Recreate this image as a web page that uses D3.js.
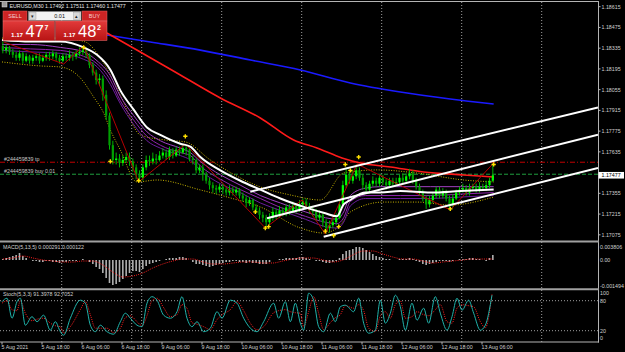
<!DOCTYPE html>
<html>
<head>
<meta charset="utf-8">
<script src="https://cdnjs.cloudflare.com/ajax/libs/d3/7.8.5/d3.min.js"></script>
<style>
  body { margin: 0; background: #000; overflow: hidden; }
  svg { display: block; font-family: "Liberation Sans", Arial, sans-serif; }
</style>
</head>
<body>
<script>
// ---- data (EURUSD M30, hourly candles) ----
const firstOpen = 1.1835;
const closes = [
  1.1832,1.1834,1.1831,1.1829,1.1827,1.1830,1.1825,1.1828,1.1825,1.1827,
  1.1828,1.1825,1.1827,1.1829,1.1828,1.1830,1.1827,1.1825,1.1828,1.1827,
  1.1829,1.1828,1.1830,1.1831,1.1832,1.1829,1.1822,1.1817,1.1812,1.1813,
  1.1802,1.1788,1.1768,1.1758,1.1759,1.1756,1.1758,1.1760,1.1757,1.1753,
  1.1748,1.1746,1.1753,1.1758,1.1757,1.1759,1.1758,1.1761,1.1763,1.1760,
  1.1765,1.1761,1.1765,1.1763,1.1766,1.1765,1.1759,1.1758,1.1751,1.1753,
  1.1748,1.1744,1.1741,1.1739,1.1738,1.1740,1.1738,1.1736,1.1738,1.1736,
  1.1738,1.1734,1.1732,1.1729,1.1731,1.1726,1.1724,1.1721,1.1719,1.1716,
  1.1719,1.1723,1.1721,1.1724,1.1722,1.1726,1.1723,1.1727,1.1724,1.1728,
  1.1730,1.1727,1.1724,1.1723,1.1719,1.1721,1.1716,1.1712,1.1714,1.1716,
  1.1719,1.1728,1.1741,1.1748,1.1744,1.1747,1.1751,1.1746,1.1741,1.1738,
  1.1742,1.1744,1.1742,1.1746,1.1743,1.1741,1.1744,1.1742,1.1743,1.1746,
  1.1744,1.1747,1.1749,1.1744,1.1740,1.1736,1.1732,1.1728,1.1731,1.1734,
  1.1738,1.1734,1.1736,1.1732,1.1728,1.1732,1.1736,1.1738,1.1739,1.1736,
  1.1739,1.1740,1.1738,1.1740,1.1739,1.1741,1.1744,1.17477
];
const highs = [
  1.1838,1.1836,1.1835,1.1833,1.1831,1.1832,1.1831,1.1830,1.1829,1.1829,
  1.1830,1.1830,1.1829,1.1831,1.1831,1.1832,1.1831,1.1829,1.1830,1.1830,
  1.1832,1.1831,1.1832,1.1834,1.1835,1.1834,1.1830,1.1824,1.1819,1.1816,
  1.1815,1.1805,1.1790,1.1771,1.1763,1.1762,1.1761,1.1763,1.1763,1.1759,
  1.1755,1.1751,1.1755,1.1761,1.1761,1.1763,1.1762,1.1764,1.1766,1.1765,
  1.1767,1.1766,1.1767,1.1767,1.1769,1.1768,1.1766,1.1761,1.1759,1.1755,
  1.1755,1.1750,1.1746,1.1743,1.1741,1.1742,1.1742,1.1740,1.1741,1.1740,
  1.1740,1.1739,1.1736,1.1734,1.1733,1.1732,1.1728,1.1726,1.1723,1.1721,
  1.1722,1.1726,1.1725,1.1727,1.1726,1.1728,1.1728,1.1730,1.1729,1.1731,
  1.1732,1.1732,1.1729,1.1727,1.1725,1.1724,1.1722,1.1718,1.1717,1.1719,
  1.1722,1.1731,1.1744,1.1753,1.1750,1.1751,1.1755,1.1753,1.1748,1.1743,
  1.1744,1.1747,1.1746,1.1748,1.1748,1.1745,1.1746,1.1746,1.1746,1.1748,
  1.1749,1.1749,1.1752,1.1751,1.1746,1.1742,1.1738,1.1734,1.1734,1.1736,
  1.1740,1.1740,1.1739,1.1738,1.1734,1.1735,1.1738,1.1740,1.1742,1.1741,
  1.1742,1.1742,1.1742,1.1743,1.1742,1.1744,1.1746,1.1756
];
const lows = [
  1.1830,1.1830,1.1829,1.1827,1.1825,1.1825,1.1823,1.1824,1.1823,1.1823,
  1.1825,1.1823,1.1824,1.1825,1.1825,1.1826,1.1825,1.1823,1.1824,1.1825,
  1.1825,1.1825,1.1826,1.1828,1.1829,1.1827,1.1820,1.1815,1.1809,1.1808,
  1.1798,1.1785,1.1765,1.1755,1.1755,1.1753,1.1754,1.1756,1.1754,1.1750,
  1.1745,1.1743,1.1744,1.1751,1.1754,1.1755,1.1755,1.1757,1.1759,1.1758,
  1.1758,1.1759,1.1760,1.1761,1.1762,1.1761,1.1757,1.1755,1.1749,1.1749,
  1.1744,1.1742,1.1738,1.1736,1.1735,1.1736,1.1735,1.1734,1.1734,1.1734,
  1.1734,1.1732,1.1730,1.1726,1.1727,1.1724,1.1722,1.1718,1.1716,1.1712,
  1.1714,1.1717,1.1718,1.1719,1.1720,1.1720,1.1721,1.1722,1.1722,1.1723,
  1.1726,1.1725,1.1722,1.1720,1.1717,1.1717,1.1713,1.1708,1.1709,1.1712,
  1.1714,1.1718,1.1726,1.1739,1.1742,1.1742,1.1745,1.1744,1.1738,1.1735,
  1.1736,1.1740,1.1740,1.1740,1.1741,1.1738,1.1739,1.1740,1.1740,1.1741,
  1.1742,1.1742,1.1745,1.1742,1.1738,1.1734,1.1730,1.1725,1.1726,1.1729,
  1.1732,1.1732,1.1732,1.1730,1.1724,1.1726,1.1731,1.1734,1.1736,1.1734,
  1.1734,1.1737,1.1736,1.1736,1.1737,1.1737,1.1739,1.1743
];

// moving averages / bands, sampled at M30 bar indices
const maBars = [0,17,35,49,57,65,71,79,87,95,107,113,119,131,143,155,167,182,194,201,205,209,218,227,239,257,275,295];
const maWhite = [1.1839,1.1838,1.1838,1.1834,1.1829,1.1819,1.1805,1.1792,1.1780,1.1775,1.1769,1.1767,1.1760,1.1751,1.1744,1.1738,1.1732,1.1726,1.1722,1.1720,1.1728,1.1731,1.1736,1.1736,1.1737,1.1736,1.1737,1.1738];
const maPurple1 = [1.1836,1.1836,1.1834,1.1831,1.1825,1.1815,1.1801,1.1788,1.1777,1.1771,1.1766,1.1763,1.1757,1.1748,1.1741,1.1734,1.1729,1.1723,1.1719,1.1718,1.1723,1.1734,1.1739,1.1740,1.1740,1.1740,1.1740,1.1740];
const maPurple2 = [1.1834,1.1833,1.1832,1.1828,1.1823,1.1812,1.1798,1.1785,1.1774,1.1768,1.1763,1.1761,1.1754,1.1745,1.1738,1.1732,1.1726,1.1720,1.1716,1.1715,1.1719,1.1730,1.1734,1.1734,1.1734,1.1734,1.1735,1.1736];
const maPurple3 = [1.1832,1.1831,1.1830,1.1826,1.1821,1.1809,1.1796,1.1782,1.1771,1.1766,1.1761,1.1758,1.1751,1.1742,1.1736,1.1729,1.1724,1.1718,1.1713,1.1712,1.1716,1.1727,1.1732,1.1732,1.1732,1.1732,1.1733,1.1734];
const redBars = [63,83,107,131,155,175,189,204,215,233,253,277,295];
const maRed = [1.18437,1.18309,1.18154,1.17999,1.17864,1.17715,1.17661,1.17594,1.17560,1.17533,1.17499,1.17479,1.17465];
const blueBars = [63,89,119,149,179,209,239,269,295];
const maBlue = [1.18424,1.18377,1.18322,1.18255,1.18188,1.18100,1.18039,1.17992,1.17958];
const bandUpBars = [0,35,50,59,71,83,98,110,125,143,155,173,191,205,225,249,277,295];
const bandUp = [1.18403,1.18403,1.18377,1.18269,1.18019,1.17749,1.17715,1.17702,1.17580,1.17459,1.17398,1.17344,1.17310,1.17492,1.17513,1.17492,1.17445,1.17432];
const bandLoBars = [0,23,35,47,55,61,65,71,81,93,119,137,155,179,193,203,209,229,249,269,295];
const bandLo = [1.18242,1.18215,1.18208,1.18134,1.18005,1.17897,1.17783,1.17648,1.17432,1.17445,1.17378,1.17324,1.17263,1.17121,1.17087,1.17141,1.17229,1.17296,1.17296,1.17276,1.17330];
const zigBars = [1,37,49,82,110,158,180,194,213,269,295];
const zigPrices = [1.18377,1.18228,1.18350,1.17432,1.17688,1.17121,1.17310,1.17080,1.17553,1.17243,1.17560];
const fractalBars = [49,65,82,110,152,158,160,194,199,202,206,209,214,269,295];
const fractalPrices = [1.1834,1.1757,1.1744,1.1774,1.1723,1.1712,1.1713,1.1710,1.1707,1.1713,1.1755,1.1751,1.1760,1.1725,1.1755];

// channel lines: [bar1, price1, bar2, price2]
const channels = [
  [149, 1.17366, 277, 1.17715],
  [159, 1.17187, 305, 1.17602],
  [193, 1.17062, 305, 1.17378]
];
const tpPrice = 1.17565, buyPrice = 1.17484, lastPrice = 1.17477;

// MACD histogram (x1e-4), hourly; signal every 3 hours
const macdHist = [
  1,2,3,4,5,7,4,2,0,-1, -1,-2,-2,-1,-1,-2,-2,-3,-2,-2,
  -1,-1,-1,0,1,0,-2,-4,-7,-9, -13,-18,-23,-25,-24,-22,-19,-16,-13,-11,
  -11,-12,-9,-6,-4,-3,-2,-1,0,1, 2,2,2,3,3,2,0,-2,-4,-4,
  -5,-6,-7,-6,-5,-4,-3,-2,-2,-1, -1,-2,-2,-3,-2,-3,-3,-4,-4,-4,
  -2,0,0,1,1,2,2,2,2,3, 3,2,1,0,-1,-1,-2,-3,-3,-2,
  -1,2,6,9,10,11,13,13,12,10, 8,6,4,3,2,1,1,0,0,1,
  1,1,2,1,-1,-2,-4,-5,-4,-3, -2,-1,-1,-1,-2,-1,0,1,1,1,
  2,2,1,1,0,-1,2,5
];
const macdSignal = [1,2,4,2,0,-1,-2,-2,-1,-1,-5,-12,-17,-16,-13,-8,-4,-1,1,1,-2,-4,-4,-3,-2,-2,-3,-3,-1,1,2,2,0,-2,0,5,9,9,6,3,1,1,-1,-3,-2,-1,0,1,1,1];

// Stochastic, sampled at M30 bar indices
const stochBars = [0,3,6,9,11,14,18,21,25,29, 32,35,37,41,47,50,53,56,59,63,
  67,71,74,77,81,84,87,90,93,97, 101,105,108,111,114,117,121,125,129,132,
  137,141,145,149,153,157,163,166,170,173, 176,179,181,184,187,190,193,197,200,203,
  206,211,214,217,220,224,227,230,233,236, 239,242,246,249,253,256,260,263,267,270,
  273,276,280,283,287,290,294];
const stochMain = [78,85,45,78,85,31,48,38,51,21, 38,18,11,45,81,75,31,18,31,18,
  13,38,55,45,31,28,75,88,81,51, 45,58,88,45,28,38,18,25,58,45,
  81,75,45,25,18,38,75,45,78,38, 75,35,21,95,81,28,18,55,38,68,
  71,58,85,35,15,21,81,35,55,91, 68,21,75,41,65,35,88,55,21,48,
  85,61,81,55,21,31,91];
const stochSignal = [75,80,62,60,80,55,40,43,45,35, 30,28,15,28,62,78,52,25,25,25,
  16,25,46,50,38,30,50,80,85,66, 48,52,72,65,36,33,28,22,42,52,
  62,78,60,35,22,28,56,60,62,58, 56,55,28,58,88,55,22,36,46,52,
  70,65,72,60,25,18,50,58,45,72, 80,45,48,58,52,50,62,72,38,35,
  65,72,70,68,38,26,93];

// axis labels
const priceTicks = [1.18615,1.18475,1.18335,1.18195,1.18055,1.17915,1.17775,1.17635,1.17355,1.17215,1.17075];
const timeLabels = ["5 Aug 2021","5 Aug 18:00","6 Aug 06:00","6 Aug 18:00","9 Aug 06:00","9 Aug 18:00",
  "10 Aug 06:00","10 Aug 18:00","11 Aug 06:00","11 Aug 18:00","12 Aug 06:00","12 Aug 18:00","13 Aug 06:00"];
const timeLabelBars = [0,24,48,72,96,120,144,168,192,216,240,264,288];
const separatorBars = [36,78,84,132,180,228,276,324];
const macdLabels = ["0.003806","0.00","-0.001494"];
const stochLevels = [100,80,20,0];

// ---- layout ----
const W = 625, H = 352;
const axisX = 598;
const svg = d3.select("body").append("svg").attr("width", W).attr("height", H);
svg.append("rect").attr("width", W).attr("height", H).attr("fill", "#000");

const x = d3.scaleLinear().domain([0, 324]).range([2, 542]);
const y = d3.scaleLinear().domain([1.17075, 1.18615]).range([234.8, 6.7]);
const yMacd = d3.scaleLinear().domain([-28, 17]).range([288, 243]);
const yStoch = d3.scaleLinear().domain([0, 100]).range([340.7, 290.7]);

const defs = svg.append("defs");
function clip(id, y0, y1) {
  defs.append("clipPath").attr("id", id).append("rect")
    .attr("x", 0).attr("y", y0).attr("width", axisX).attr("height", y1 - y0);
}
clip("cMain", 2, 240.5);
clip("cMacd", 243, 288);
clip("cStoch", 290, 341.5);

const gridColor = "#c8c8c8";

// vertical separators through all panels
svg.append("g").selectAll("line").data(separatorBars).join("line")
  .attr("x1", d => x(d) - 0.3).attr("x2", d => x(d) - 0.3)
  .attr("y1", 2).attr("y2", 342)
  .attr("stroke", gridColor).attr("stroke-width", 0.8).attr("stroke-dasharray", "1,2");

// ---- main panel ----
const main = svg.append("g").attr("clip-path", "url(#cMain)");

// order lines
main.append("line").attr("x1", 0).attr("x2", axisX).attr("y1", y(tpPrice)).attr("y2", y(tpPrice))
  .attr("stroke", "#c00000").attr("stroke-width", 1).attr("stroke-dasharray", "5,2,1,2");
main.append("line").attr("x1", 0).attr("x2", axisX).attr("y1", y(buyPrice)).attr("y2", y(buyPrice))
  .attr("stroke", "#1f9f3f").attr("stroke-width", 1).attr("stroke-dasharray", "4,2");

function lineOf(bars, vals, sy, curve) {
  return d3.line().x((d, i) => x(bars[i])).y(d => sy(d)).curve(curve || d3.curveMonotoneX)(vals);
}

// bands (yellow dotted)
[[bandUpBars, bandUp], [bandLoBars, bandLo]].forEach(([b, v]) => {
  main.append("path").attr("d", lineOf(b, v, y)).attr("fill", "none")
    .attr("stroke", "#c8b400").attr("stroke-width", 1).attr("stroke-dasharray", "1,1.5");
});

// blue and red MAs
main.append("path").attr("d", lineOf(blueBars, maBlue, y)).attr("fill", "none")
  .attr("stroke", "#1a1aff").attr("stroke-width", 1.6);
main.append("path").attr("d", lineOf(redBars, maRed, y)).attr("fill", "none")
  .attr("stroke", "#ff1a1a").attr("stroke-width", 1.6);

// purple ribbon
[maPurple3, maPurple2, maPurple1].forEach((v, i) => {
  main.append("path").attr("d", lineOf(maBars, v, y)).attr("fill", "none")
    .attr("stroke", ["#6a1b9a", "#8e24aa", "#a040c0"][i]).attr("stroke-width", 1);
});

// candles
const candles = closes.map((c, k) => ({
  bar: 2 * k + 0.5, o: k === 0 ? firstOpen : closes[k - 1], c, h: highs[k], l: lows[k]
}));
const cg = main.append("g");
cg.selectAll("line").data(candles).join("line")
  .attr("x1", d => x(d.bar)).attr("x2", d => x(d.bar))
  .attr("y1", d => y(d.h)).attr("y2", d => y(d.l))
  .attr("stroke", "#00b400").attr("stroke-width", 1);
cg.selectAll("rect").data(candles).join("rect")
  .attr("x", d => x(d.bar) - 1.1).attr("width", 2.2)
  .attr("y", d => y(Math.max(d.o, d.c)))
  .attr("height", d => Math.max(1, Math.abs(y(d.o) - y(d.c))))
  .attr("fill", d => d.c >= d.o ? "#00ff00" : "#00a000");

// zigzag
main.append("path").attr("d", lineOf(zigBars, zigPrices, y, d3.curveLinear)).attr("fill", "none")
  .attr("stroke", "#b40000").attr("stroke-width", 1);

// white MA
main.append("path").attr("d", lineOf(maBars, maWhite, y)).attr("fill", "none")
  .attr("stroke", "#ffffff").attr("stroke-width", 2);

// channel lines, extended to the right edge
const barEnd = x.invert(axisX);
main.append("g").selectAll("line").data(channels).join("line")
  .attr("x1", d => x(d[0])).attr("y1", d => y(d[1]))
  .attr("x2", x(barEnd))
  .attr("y2", d => y(d[1] + (d[3] - d[1]) * (barEnd - d[0]) / (d[2] - d[0])))
  .attr("stroke", "#ffffff").attr("stroke-width", 2);

// fractal markers
main.append("g").selectAll("path").data(fractalBars).join("path")
  .attr("transform", (d, i) => `translate(${x(d)},${y(fractalPrices[i])})`)
  .attr("d", d3.symbol(d3.symbolCross, 10))
  .attr("fill", "#ffe000");

// order labels
const lblStyle = s => s.attr("font-size", 5.3).attr("fill", "#c8c8c8");
main.append("text").attr("x", 4).attr("y", y(tpPrice) - 1.5).text("#244459839 tp").call(lblStyle);
main.append("text").attr("x", 4).attr("y", y(buyPrice) - 1.5).text("#244459839 buy 0.01").call(lblStyle);

// ---- MACD panel ----
const macd = svg.append("g").attr("clip-path", "url(#cMacd)");
macd.selectAll("rect").data(macdHist).join("rect")
  .attr("x", (d, k) => x(2 * k + 0.5) - 0.8).attr("width", 1.6)
  .attr("y", d => Math.min(yMacd(d), yMacd(0)))
  .attr("height", d => Math.abs(yMacd(d) - yMacd(0)))
  .attr("fill", "#b0b0b0");
macd.append("path")
  .attr("d", d3.line().x((d, i) => x(6 * i + 0.5)).y(d => yMacd(d)).curve(d3.curveMonotoneX)(macdSignal))
  .attr("fill", "none").attr("stroke", "#ff2020").attr("stroke-width", 1).attr("stroke-dasharray", "1,1.2");
svg.append("text").attr("x", 3).attr("y", 249).attr("font-size", 5.3).attr("fill", "#d0d0d0")
  .text("MACD(5,13,5) 0.000291 0.000122");

// ---- Stoch panel ----
const st = svg.append("g").attr("clip-path", "url(#cStoch)");
st.selectAll("line.lvl").data([80, 20]).join("line").attr("class", "lvl")
  .attr("x1", 0).attr("x2", axisX).attr("y1", d => yStoch(d)).attr("y2", d => yStoch(d))
  .attr("stroke", gridColor).attr("stroke-width", 0.8).attr("stroke-dasharray", "1,2");
st.append("path").attr("d", lineOf(stochBars, stochSignal, yStoch)).attr("fill", "none")
  .attr("stroke", "#ff2020").attr("stroke-width", 1).attr("stroke-dasharray", "1,1.2");
st.append("path").attr("d", lineOf(stochBars, stochMain, yStoch)).attr("fill", "none")
  .attr("stroke", "#20b2aa").attr("stroke-width", 1);
svg.append("text").attr("x", 3).attr("y", 296).attr("font-size", 5.3).attr("fill", "#d0d0d0")
  .text("Stoch(5,3,3) 91.3978 92.7052");

// ---- frames ----
const frame = "#b4b4b4";
svg.append("line").attr("x1", 0).attr("x2", axisX).attr("y1", 1.5).attr("y2", 1.5).attr("stroke", frame);
svg.append("line").attr("x1", axisX + 0.5).attr("x2", axisX + 0.5).attr("y1", 1).attr("y2", 342.5).attr("stroke", frame);
[241.5, 289.2].forEach(v => svg.append("line").attr("x1", 0).attr("x2", axisX + 1)
  .attr("y1", v).attr("y2", v).attr("stroke", "#a0a0a0").attr("stroke-width", 2));
svg.append("line").attr("x1", 0).attr("x2", axisX + 1).attr("y1", 342).attr("y2", 342).attr("stroke", frame);

// price axis
const ax = svg.append("g").attr("font-size", 5.3).attr("fill", "#d0d0d0");
ax.selectAll("text").data(priceTicks).join("text")
  .attr("x", 601.5).attr("y", d => y(d)).attr("dy", "0.35em").text(d => d.toFixed(5));
ax.selectAll("line").data(priceTicks).join("line")
  .attr("x1", axisX).attr("x2", axisX + 2.5).attr("y1", d => y(d)).attr("y2", d => y(d)).attr("stroke", frame);
ax.append("rect").attr("x", axisX + 0.5).attr("y", y(lastPrice) - 3.3).attr("width", 25.5).attr("height", 6.6).attr("fill", "#fff");
ax.append("text").attr("x", 601.5).attr("y", y(lastPrice)).attr("dy", "0.35em").attr("fill", "#000").text(lastPrice.toFixed(5));

// MACD and stoch axis labels
const macdLabelY = [yMacd.range()[1] + 3.7, yMacd(0), yMacd.range()[0] - 2.3];
ax.selectAll("text.m").data(macdLabels).join("text").attr("class", "m")
  .attr("x", 600).attr("y", (d, i) => macdLabelY[i]).attr("dy", "0.35em").text(d => d);
ax.selectAll("text.s").data(stochLevels).join("text").attr("class", "s")
  .attr("x", 600).attr("y", d => Math.min(338.6, Math.max(293.6, yStoch(d)))).attr("dy", "0.35em").text(d => d);

// time axis
const tx = svg.append("g").attr("font-size", 5.3).attr("fill", "#d0d0d0");
tx.selectAll("text").data(timeLabels).join("text")
  .attr("x", (d, i) => x(timeLabelBars[i]) - 0.5).attr("y", 349).text(d => d);
tx.selectAll("line").data(timeLabelBars).join("line")
  .attr("x1", d => x(d)).attr("x2", d => x(d)).attr("y1", 342).attr("y2", 344.5).attr("stroke", frame);

// ---- one-click trading panel ----
const tp = svg.append("g");
tp.append("rect").attr("x", 2).attr("y", 2.5).attr("width", 5).attr("height", 4.5).attr("fill", "#9a9a9a").attr("stroke", "#ddd").attr("stroke-width", 0.5);
tp.append("text").attr("x", 9.5).attr("y", 7.6).attr("font-size", 5.3).attr("fill", "#e8e8e8")
  .text("EURUSD,M30  1.17492 1.17511 1.17460 1.17477");

const grad = defs.append("linearGradient").attr("id", "redg").attr("x1", 0).attr("x2", 0).attr("y1", 0).attr("y2", 1);
grad.append("stop").attr("offset", 0).attr("stop-color", "#e23a3a");
grad.append("stop").attr("offset", 1).attr("stop-color", "#b81414");

tp.append("rect").attr("x", 3).attr("y", 11).attr("width", 24).attr("height", 10).attr("fill", "#cc2424").attr("stroke", "#e06060").attr("stroke-width", 0.5);
tp.append("rect").attr("x", 82).attr("y", 11).attr("width", 25).attr("height", 10).attr("fill", "#cc2424").attr("stroke", "#e06060").attr("stroke-width", 0.5);
tp.append("text").attr("x", 15).attr("y", 18).attr("text-anchor", "middle").attr("font-size", 5.5).attr("fill", "#f4d0d0").text("SELL");
tp.append("text").attr("x", 94.5).attr("y", 18).attr("text-anchor", "middle").attr("font-size", 5.5).attr("fill", "#f4d0d0").text("BUY");
tp.append("rect").attr("x", 28.5).attr("y", 11.5).attr("width", 52.5).attr("height", 9).attr("fill", "#f2f2f2").attr("stroke", "#888").attr("stroke-width", 0.5);
[29.5, 73.5].forEach(v => tp.append("rect").attr("x", v).attr("y", 12.5).attr("width", 6.5).attr("height", 7)
  .attr("fill", "#d8d8d8").attr("stroke", "#999").attr("stroke-width", 0.4));
tp.append("text").attr("x", 32.7).attr("y", 17.5).attr("text-anchor", "middle").attr("font-size", 4.5).attr("fill", "#222").text("\u25BE");
tp.append("text").attr("x", 76.7).attr("y", 17.5).attr("text-anchor", "middle").attr("font-size", 4.5).attr("fill", "#222").text("\u25B4");
tp.append("text").attr("x", 65).attr("y", 18).attr("text-anchor", "end").attr("font-size", 5.5).attr("fill", "#111").text("0.01");

const quotes = [
  { x: 3, small: "1.17", big: "47", sup: "7" },
  { x: 55.5, small: "1.17", big: "48", sup: "2" }
];
quotes.forEach(q => {
  tp.append("rect").attr("x", q.x).attr("y", 21).attr("width", 51.5).attr("height", 19.5)
    .attr("fill", "url(#redg)").attr("stroke", "#e87070").attr("stroke-width", 0.5);
  tp.append("text").attr("x", q.x + 8).attr("y", 36.5).attr("font-size", 6.2).attr("font-weight", "bold").attr("fill", "#fff").text(q.small);
  tp.append("text").attr("x", q.x + 22.5).attr("y", 37).attr("font-size", 16.5).attr("fill", "#fff").text(q.big);
  tp.append("text").attr("x", q.x + 41.5).attr("y", 30).attr("font-size", 7).attr("font-weight", "bold").attr("fill", "#fff").text(q.sup);
});
</script>
</body>
</html>
